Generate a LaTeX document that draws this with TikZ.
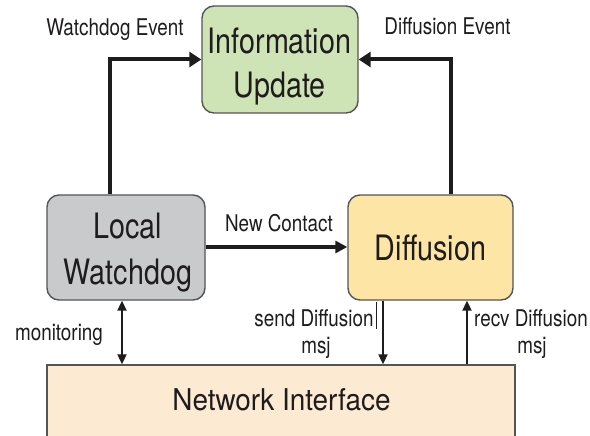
\documentclass[tikz,border=0pt]{standalone}
\usepackage{fontspec}
\setmainfont{TeX Gyre Heros}
\newfontfamily\condfont[FakeStretch=0.82]{TeX Gyre Heros}
\newfontfamily\netfont[FakeStretch=0.93]{TeX Gyre Heros}
\usetikzlibrary{arrows.meta}
\definecolor{ink}{HTML}{1E1C1D}
\definecolor{edge}{HTML}{555555}
\definecolor{infofill}{HTML}{CFE4B6}
\definecolor{wdfill}{HTML}{C9CACC}
\definecolor{difffill}{HTML}{FDE5A5}
\definecolor{netfill}{HTML}{FDEAD3}
\tikzset{
  block/.style={draw=edge, line width=1.4pt, rounded corners=12pt, inner sep=0pt},
  boxtext/.style={text=ink, font=\condfont\fontsize{35}{45}\selectfont, inner sep=0pt, anchor=base},
  lbl/.style={text=ink, font=\condfont\fontsize{23}{26}\selectfont, inner sep=0pt, anchor=base},
  bigarrow/.style={line width=4pt, draw=ink, -{Triangle[length=12pt,width=15pt]}},
  midarrow/.style={line width=3.2pt, draw=ink, -{Triangle[length=12pt,width=12pt]}},
  smallarrow/.style={line width=2pt, draw=ink, -{Triangle[length=10pt,width=9pt]}},
}
\begin{document}
\begin{tikzpicture}[x=1pt, y=-1pt]
\fill[white] (0,0) rectangle (590,436);
\useasboundingbox (0,0) rectangle (590,436);
\begin{scope}
\clip (0,0) rectangle (590,436);
% blocks
\node[block, fill=infofill, minimum width=156pt, minimum height=107pt] (info) at (280,59.5) {};
\node[block, fill=wdfill, minimum width=158pt, minimum height=105pt] (lw) at (126,247.5) {};
\node[block, fill=difffill, minimum width=165pt, minimum height=105pt] (diff) at (430.5,247.5) {};
\node[block, rounded corners=0pt, fill=netfill, minimum width=468pt, minimum height=80pt] (net) at (281,405) {};
\end{scope}
% block texts
\node[boxtext] (infoA) at (279.5,53.3) {Information};
\node[boxtext] (infoB) at (279.5,98) {Update};
\node[boxtext] (lwA) at (128,238) {Local};
\node[boxtext] (lwB) at (128,284) {Watchdog};
\node[boxtext] (diffA) at (430.5,260) {Diffusion};
\node[text=ink, font=\netfont\fontsize{30}{34}\selectfont, inner sep=0pt, anchor=base] (netA) at (281.5,410.7) {Network Interface};
% labels
\node[lbl] (wdev) at (115,36) {Watchdog Event};
\node[lbl] (dfev) at (447.5,35) {Diffusion Event};
\node[lbl] (nc) at (279,231.7) {New Contact};
\node[lbl] (mon) at (59,340) {monitoring};
\node[lbl] (sendA) at (314,326.7) {send Diffusion};
\node[lbl] (sendB) at (316,353) {msj};
\node[lbl] (recvA) at (531,326.7) {recv Diffusion};
\node[lbl] (recvB) at (532,353) {msj};
% connectors
\draw[bigarrow] ([xshift=-16pt]lw.north) |- (info.west);
\draw[bigarrow] ([xshift=20pt]diff.north) |- (info.east);
\draw[midarrow] ([yshift=0.5pt]lw.east) -- ([yshift=0.5pt]diff.west);
\draw[smallarrow, {Triangle[length=10pt,width=9pt]}-{Triangle[length=10pt,width=9pt]}] ([xshift=-4pt]lw.south) -- ([xshift=-4pt]lw.south |- net.north);
\draw[smallarrow] ([xshift=-47.5pt]diff.south) -- ([xshift=-47.5pt]diff.south |- net.north);
\draw[smallarrow] ([xshift=36.5pt]diff.south |- net.north) -- ([xshift=36.5pt]diff.south);
% thin cursor mark after the send label
\coordinate (bartop) at (376.7,302);
\coordinate (barbot) at (376.7,329);
\draw[line width=1pt, ink] (bartop) -- (barbot);
\end{tikzpicture}
\end{document}
